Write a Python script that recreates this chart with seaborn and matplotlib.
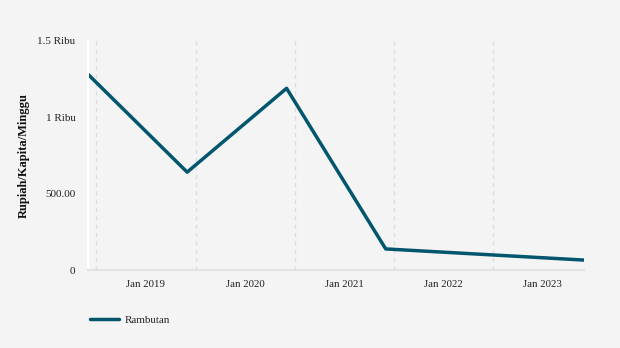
import matplotlib
matplotlib.use("Agg")
import matplotlib.pyplot as plt
import matplotlib.dates as mdates
import seaborn as sns
import pandas as pd
from matplotlib.lines import Line2D

dates = ["2018-12-01", "2019-12-01", "2020-12-01", "2021-12-01", "2023-12-01"]
values = [1282, 641, 1190, 138, 65]
series_name = "Rambutan"
year_ticks = ["2019-01-01", "2020-01-01", "2021-01-01", "2022-01-01", "2023-01-01"]
label_pos = ["2019-07-02", "2020-07-02", "2021-07-02", "2022-07-02", "2023-07-02"]
x_labels = ["Jan 2019", "Jan 2020", "Jan 2021", "Jan 2022", "Jan 2023"]
y_ticks = [0, 500, 1000, 1500]
y_labels = ["0", "500.00", "1 Ribu", "1.5 Ribu"]

df = pd.DataFrame({"date": pd.to_datetime(dates), "value": values, "series": series_name})

sns.set_theme(style="white")
plt.rcParams["font.family"] = ["Liberation Serif", "DejaVu Serif"]
bg = "#f4f4f4"
color = "#01566e"

fig = plt.figure(figsize=(6.2, 3.48), dpi=100, facecolor=bg)
ax = fig.add_axes([88/620, 1-270/348, (584-88)/620, (270-41)/348])
ax.set_facecolor(bg)

sns.lineplot(data=df, x="date", y="value", hue="series", palette=[color],
             linewidth=2.5, ax=ax, legend=False)

ax.set_xlim(pd.Timestamp(dates[0]), pd.Timestamp(dates[-1]))
ax.set_ylim(0, 1500)

ax.set_xticks(mdates.date2num(pd.to_datetime(year_ticks)))
ax.set_xticklabels([])
ax.set_xticks(mdates.date2num(pd.to_datetime(label_pos)), minor=True)
ax.set_xticklabels(x_labels, minor=True)
ax.tick_params(axis="x", which="major", length=5, width=1, color="#e0e0e0", direction="out")
ax.tick_params(axis="x", which="minor", length=0, pad=7, labelsize=7.8, labelcolor="#222222")
ax.xaxis.grid(True, which="major", linestyle=(0, (3, 3)), color="#dddddd", linewidth=1)

ax.set_yticks(y_ticks)
ax.set_yticklabels(y_labels)
ax.tick_params(axis="y", length=6, width=1, color="white", direction="out", pad=3,
               labelsize=8, labelcolor="#222222")

for s in ["top", "right"]:
    ax.spines[s].set_visible(False)
ax.spines["left"].set_color("white")
ax.spines["left"].set_linewidth(1.5)
ax.spines["bottom"].set_color("#e3e3e3")
ax.spines["bottom"].set_linewidth(1.5)

ax.set_xlabel("")
ax.set_ylabel("Rupiah/Kapita/Minggu", fontsize=9, fontweight="bold", color="#111111")
ax.yaxis.set_label_coords((30-88)/496, 0.5)

handle = Line2D([], [], color=color, linewidth=2.5)
fig.legend([handle], [series_name], loc="center left", bbox_to_anchor=(80/620, 1-320/348),
           frameon=False, fontsize=8, handlelength=2.65, handletextpad=0.45)

fig.savefig("out.png", dpi=100, facecolor=bg)
